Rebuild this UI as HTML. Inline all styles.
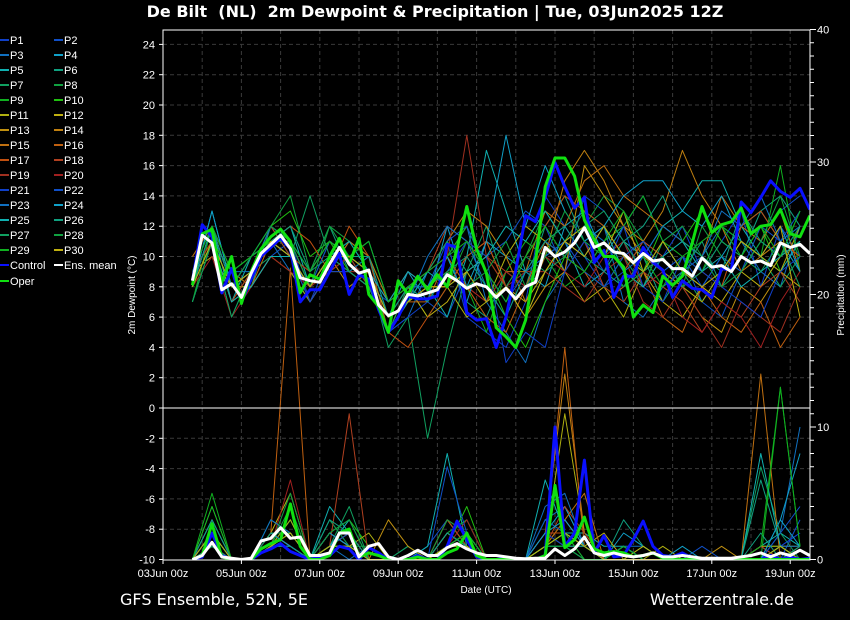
<!DOCTYPE html>
<html><head><meta charset="utf-8">
<style>
html,body{margin:0;padding:0;background:#000;}
svg{display:block;font-family:"Liberation Sans","DejaVu Sans",sans-serif;}
</style></head>
<body>
<svg id="chart" width="850" height="620" viewBox="0 0 850 620" xmlns="http://www.w3.org/2000/svg">
<rect x="0" y="0" width="850" height="620" fill="#000"/>
<text x="435" y="17" text-anchor="middle" fill="#fff" font-size="16" font-weight="bold" font-family="DejaVu Sans, sans-serif" xml:space="preserve">De Bilt  (NL)  2m Dewpoint &amp; Precipitation | Tue, 03Jun2025 12Z</text>
<text x="120" y="605" fill="#fff" font-size="16" font-family="DejaVu Sans, sans-serif">GFS Ensemble, 52N, 5E</text>
<text x="794" y="605" text-anchor="end" fill="#fff" font-size="16" font-family="DejaVu Sans, sans-serif">Wetterzentrale.de</text>
<text x="486" y="593" text-anchor="middle" fill="#fff" font-size="10">Date (UTC)</text>
<text transform="translate(135,295) rotate(-90)" text-anchor="middle" fill="#fff" font-size="10">2m Dewpoint (°C)</text>
<text transform="translate(844,295) rotate(-90)" text-anchor="middle" fill="#fff" font-size="10">Precipitation (mm)</text>
<g id="grid"></g>
<g id="ticks"></g>
<defs><clipPath id="pc"><rect x="163" y="30" width="647" height="530"/></clipPath></defs>
<g id="series" clip-path="url(#pc)"></g>
<g id="frame"></g>
<g id="legend"></g>
</svg>
<script>
const xTickLabels = ["03Jun 00z","05Jun 00z","07Jun 00z","09Jun 00z","11Jun 00z","13Jun 00z","15Jun 00z","17Jun 00z","19Jun 00z"];
const leftTicks = [-10,-8,-6,-4,-2,0,2,4,6,8,10,12,14,16,18,20,22,24];
const rightTicks = [0,10,20,30,40];
const memberColors = ["#1040c8","#1050c8","#1070c0","#10a0c8","#10b0b0","#10a080","#10a060","#10a040","#10b020","#20c010","#b0b010","#c0b010","#c09010","#c08010","#c07010","#c06010","#c05010","#b04020","#a03020","#a02020","#1040c8","#1050c8","#1070c0","#10a0c8","#10b0b0","#10a080","#10a060","#10a040","#10b020","#c0b010"];
const meanDew = [8.4,11.4,10.9,7.8,8.2,7.3,8.9,10.2,10.8,11.4,10.5,8.6,8.4,8.3,9.5,10.6,9.5,8.9,9.1,6.8,6.1,6.4,7.5,7.4,7.6,7.8,8.8,8.4,7.9,8.2,8.0,7.3,7.9,7.2,8.0,8.3,10.6,10.0,10.3,10.9,11.9,10.6,10.9,10.3,10.2,9.6,10.2,9.7,9.8,9.2,9.2,8.7,9.9,9.3,9.4,9.0,10.0,9.6,9.7,9.4,10.9,10.6,10.8,10.2];
const controlDew = [8.4,12.1,11.3,7.6,9.2,7.0,8.5,10.0,10.6,11.2,10.5,7.0,7.8,7.8,9.0,10.2,7.5,8.8,8.5,6.5,5.0,6.0,7.4,7.2,7.2,7.4,10.8,10.6,6.3,5.8,5.9,4.0,6.0,9.1,12.7,12.3,13.9,16.2,14.6,13.2,13.9,9.6,10.4,7.3,8.7,8.7,10.6,9.6,9.1,7.3,8.4,7.9,7.8,7.3,9.2,9.1,13.6,12.9,13.9,15.0,14.3,13.9,14.5,13.1];
const operDew = [8.1,11.5,11.8,8.3,10.0,6.9,9.0,10.5,11.3,11.8,11.0,7.6,8.8,8.5,10.0,11.2,9.5,11.2,7.5,6.7,5.0,8.4,7.5,8.7,7.8,8.8,8.0,10.5,13.3,10.5,8.9,5.3,4.7,4.0,5.8,9.6,14.6,16.5,16.5,15.3,12.4,11.1,10.0,10.0,9.3,6.0,6.8,6.3,8.7,8.1,8.7,10.9,13.3,11.6,12.1,12.3,13.2,11.5,12.0,12.1,13.1,11.5,11.3,12.7];
const meanPrecip = [0,0.3,1.3,0.2,0.1,0,0.1,1.4,1.6,2.4,1.6,1.7,0.3,0.3,0.5,2.0,2.0,0.2,1.0,1.2,0.2,0,0.3,0.7,0.3,0.3,0.9,1.2,0.8,0.5,0.3,0.3,0.2,0.1,0.05,0.1,0.1,0.8,0.3,0.8,1.7,0.5,0.3,0.5,0.3,0.2,0.3,0.5,0.2,0.2,0.3,0.2,0.1,0.1,0.1,0.1,0.2,0.3,0.5,0.2,0.5,0.3,0.7,0.3];
const controlPrecip = [0,0.2,2.0,0.3,0,0,0,0.5,0.8,1.2,0.6,0.3,0,0.2,0.3,1.0,0.8,0,0.9,0.5,0,0,0,0.3,0,0,1.0,2.9,1.5,0.2,0,0,0.1,0,0,0,0.3,10.0,1.0,2.0,7.5,0.5,1.8,0.2,0.3,1.5,2.9,1.0,0.3,0.2,0.5,0.1,0,0,0,0,0,0,0,0.3,0,0.2,0,0.1];
const operPrecip = [0,0.3,2.7,0.2,0,0,0,0.8,1.2,1.5,4.2,1.0,0,0,0.3,2.0,2.3,0.2,0.5,0.3,0,0,0,0.2,0,0,0.5,0.8,2.0,0.3,0,0,0,0,0,0,0.3,5.6,0.9,1.5,3.2,0.8,0.5,0.6,0.5,0.2,0.3,0.5,0.1,0,0,0,0,0,0,0,0,0,0,0,0,0,0,0];
const memberDew = [
[8,12,8,9,11,11,7,10,9,8,5,7,9,11,6,5,4,7,14,12,10,8,9,11,10,12,9,11,13,8,12,10],
[9,12,7,8,10,11,9,11,10,8,7,8,7,6,9,10,11,13,12,9,14,13,11,8,9,10,7,6,9,11,13,14],
[7,11,9,10,11,9,7,9,11,10,5,6,9,10,12,7,5,3,7,9,11,12,7,6,8,9,10,12,11,9,8,12],
[8,13,8,9,12,10,8,10,9,10,6,9,7,12,8,11,10,9,8,12,13,10,12,14,11,9,8,10,12,13,11,9],
[8,12,7,10,11,12,8,9,10,11,7,8,8,6,10,17,13,9,10,11,8,9,11,10,12,13,15,15,12,10,9,11],
[7,11,8,8,12,11,9,12,9,8,5,7,9,10,7,6,9,8,12,14,11,9,8,10,7,9,11,8,10,13,14,12],
[8,11,6,9,10,10,8,11,10,9,4,6,-2,4,9,12,8,6,9,11,13,12,10,8,11,9,7,9,11,10,8,10],
[9,12,9,10,12,14,9,12,11,10,7,8,6,8,11,9,7,10,13,11,12,14,13,11,9,8,12,10,9,11,10,13],
[7,12,8,9,11,11,8,10,10,9,6,8,7,9,8,5,9,11,10,8,9,11,12,14,11,10,9,12,11,10,16,9],
[8,11,9,10,12,13,10,11,9,10,7,9,8,10,12,9,6,4,7,10,9,8,10,9,12,11,13,11,10,12,9,8],
[9,10,8,8,10,9,7,9,9,8,6,7,8,8,6,7,10,12,11,9,7,8,6,9,10,8,7,9,11,10,9,12],
[8,11,7,9,11,10,7,9,10,9,5,8,6,7,9,10,8,7,9,11,12,10,13,9,7,6,8,7,9,8,10,11],
[9,11,8,9,11,11,8,10,8,9,6,7,8,8,10,11,8,6,8,9,16,14,12,10,9,8,6,5,8,7,9,8],
[8,12,9,8,10,10,9,11,10,9,7,8,9,11,13,12,10,7,10,15,17,15,12,11,13,17,14,12,9,10,11,10],
[10,12,8,9,11,10,8,9,11,10,7,9,8,9,8,7,9,9,13,12,15,16,14,13,12,11,10,14,12,11,13,9],
[9,11,7,8,11,11,8,10,10,9,6,7,7,10,8,6,5,8,11,10,9,7,8,9,6,5,8,6,5,7,4,6],
[8,12,8,10,11,12,11,9,12,10,5,4,6,8,10,11,8,10,12,14,13,12,9,11,10,8,9,8,12,13,11,10],
[9,11,7,9,12,10,9,11,10,8,6,8,9,12,11,10,9,8,10,9,11,8,7,9,8,7,5,7,6,8,9,7],
[8,11,8,9,11,10,8,10,9,9,6,8,9,10,18,10,8,9,9,8,7,9,10,7,6,8,6,4,7,6,5,8],
[8,10,6,8,10,9,8,9,10,9,5,7,8,9,8,7,9,8,10,9,8,10,11,8,9,6,5,7,6,4,7,9],
[8,12,8,9,11,10,7,9,9,8,5,6,7,9,11,10,3,5,4,9,11,9,12,8,7,10,9,8,7,6,9,10],
[7,11,8,10,11,10,8,11,10,9,6,8,8,11,12,9,7,9,10,11,9,8,10,11,9,10,8,10,9,12,11,13],
[8,12,9,9,12,11,8,10,9,10,6,7,10,12,11,8,6,9,11,10,12,11,9,10,12,11,10,13,12,14,11,12],
[8,13,8,10,11,11,9,11,10,9,7,9,8,10,7,11,18,12,16,13,11,12,14,15,15,13,12,14,11,10,12,9],
[7,11,7,8,10,10,8,10,11,9,5,7,9,8,9,10,12,11,13,11,10,12,9,8,10,11,9,10,8,9,10,11],
[8,12,8,9,11,12,9,10,10,10,6,8,7,9,10,8,6,9,11,12,10,9,11,12,14,11,10,9,13,11,10,12],
[8,11,6,9,11,10,14,10,9,8,5,8,9,11,9,7,8,10,9,10,12,13,11,9,10,8,9,11,10,9,11,8],
[7,11,8,10,12,11,8,12,10,9,6,7,8,9,8,9,11,8,10,13,11,10,8,9,11,12,10,8,9,11,14,10],
[9,12,9,10,11,11,9,11,10,11,7,8,9,10,11,9,7,10,12,10,9,11,13,10,8,10,11,12,10,12,10,13],
[8,11,8,9,11,10,8,10,10,9,6,7,8,8,9,7,8,6,9,11,10,12,10,9,11,9,8,9,11,10,12,6]
];
const memberPrecip = [
[0,2,0,0,1,1,0,1,2,0,0,0,0,1,2,0,0,0,2,1,0,0,1,0,0,0,0,0,0,0,1,2],
[0,1,0,0,2,1,0,3,1,0,0,0,1,3,1,0,0,0,1,2,1,0,0,0,0,0,0,0,0,1,0,3],
[0,4,0,0,1,3,0,1,0,1,0,0,0,2,3,0,0,0,3,4,1,0,1,1,0,0,0,0,0,0,2,10],
[0,3,0,0,2,1,0,2,1,0,0,0,0,1,2,0,0,0,2,4,1,0,2,1,0,0,0,0,0,0,3,8],
[0,2,0,0,3,2,0,4,2,0,0,0,1,8,1,0,0,0,6,2,2,1,1,0,0,0,0,0,0,1,2,1],
[0,1,0,0,1,2,0,2,1,0,0,1,0,2,1,0,0,0,2,1,0,0,3,1,0,0,0,0,0,6,1,0],
[0,2,0,0,1,3,0,1,4,0,0,1,0,1,2,0,0,0,1,2,1,0,1,0,0,0,0,0,0,7,2,0],
[0,1,0,0,1,4,0,3,1,1,0,0,0,3,1,0,0,0,1,1,0,0,1,0,0,0,0,0,0,1,1,0],
[0,3,0,0,2,2,0,2,1,0,0,0,0,2,3,0,0,0,2,1,1,0,0,1,0,0,0,0,0,0,13,1],
[0,4,0,0,1,2,0,2,3,1,0,0,0,1,4,0,0,0,3,2,1,0,0,0,0,0,0,0,0,0,1,0],
[0,2,0,0,1,3,0,1,1,2,0,0,0,1,1,0,0,0,1,11,2,0,0,0,1,0,0,0,0,1,1,0],
[0,1,0,0,2,5,0,1,2,0,0,0,0,2,1,0,0,0,1,2,1,2,0,1,0,0,0,0,0,0,1,1],
[0,2,0,0,1,2,0,2,1,0,3,1,0,1,2,0,0,0,1,3,1,0,0,0,0,0,0,1,0,0,0,1],
[0,1,0,0,2,1,0,1,2,0,0,0,0,2,1,0,0,0,2,14,2,0,1,0,0,0,0,0,0,0,0,0],
[0,3,0,0,1,2,0,1,1,0,0,0,0,1,1,0,0,0,1,3,5,0,0,0,0,0,0,0,0,14,0,0],
[0,1,0,0,2,22,0,2,1,0,0,0,0,1,2,0,0,0,1,16,1,0,0,0,0,0,0,0,0,0,0,0],
[0,2,0,0,1,2,0,1,1,0,0,0,0,3,1,0,0,0,2,2,1,0,0,0,0,0,0,0,0,1,0,0],
[0,1,0,0,2,1,0,1,11,0,0,0,0,3,2,0,0,0,1,4,2,0,0,0,0,0,0,0,0,1,0,0],
[0,2,0,0,1,2,0,1,1,0,0,0,0,2,1,0,0,0,2,1,1,0,0,0,0,0,0,0,0,0,0,0],
[0,1,0,0,1,6,0,2,1,0,0,0,0,1,3,0,0,0,1,2,0,0,0,0,0,0,0,0,0,0,0,0],
[0,3,0,0,1,1,0,2,1,0,0,0,0,1,1,0,0,0,2,1,1,0,1,0,0,0,0,0,0,0,1,2],
[0,2,0,0,1,2,0,1,2,0,0,0,0,7,2,0,0,0,3,2,1,0,1,0,0,0,1,0,0,0,2,4],
[0,2,0,0,3,2,0,1,1,0,0,0,0,1,1,0,0,0,4,5,1,0,1,0,0,0,0,0,0,0,1,1],
[0,1,0,0,2,1,0,2,1,0,0,0,0,2,1,0,0,0,2,3,1,0,0,0,0,1,0,0,0,0,3,1],
[0,2,0,0,1,2,0,1,3,0,0,0,0,1,2,0,0,0,1,2,0,0,1,0,0,0,0,0,0,8,1,0],
[0,3,0,0,1,1,0,3,2,0,0,0,0,2,1,0,0,0,1,1,1,0,0,0,0,0,0,0,0,2,0,1],
[0,1,0,0,2,2,0,1,1,0,0,0,0,1,1,0,0,0,1,2,1,0,0,0,0,0,0,0,0,0,1,0],
[0,2,0,0,1,5,0,2,3,0,0,0,0,3,2,0,0,0,1,1,0,0,0,0,0,0,0,0,0,0,1,0],
[0,5,0,0,1,2,0,1,1,0,0,0,0,1,2,0,0,0,1,2,0,0,1,0,0,0,0,0,0,1,13,1],
[0,2,0,0,1,2,0,1,1,0,0,0,0,1,1,0,0,0,1,2,1,0,0,0,0,0,0,0,0,0,1,0]
];

const NS = "http://www.w3.org/2000/svg";
const X0 = 163, X1 = 810, PX_DAY = 39.2;
function xDay(d){ return X0 + d*PX_DAY; }
function xIdx6(i){ return xDay(0.75 + i*0.25); }
function xIdx12(i){ return xDay(0.75 + i*0.5); }
function yDew(v){ return 408 - v*15.15; }
function yPrec(v){ return 559.5 - v*13.25; }
function mk(tag, attrs, parent){
  const e = document.createElementNS(NS, tag);
  for (const k in attrs) e.setAttribute(k, attrs[k]);
  parent.appendChild(e); return e;
}
const grid = document.getElementById('grid');
const ticks = document.getElementById('ticks');
const series = document.getElementById('series');
const frame = document.getElementById('frame');
const legend = document.getElementById('legend');

for (let d = 1; d <= 16; d++) {
  const l = mk('line', {x1:xDay(d), x2:xDay(d), y1:30, y2:560, stroke:'#3a3a3a', 'stroke-dasharray':'4,3'}, grid);
  
  
}
leftTicks.forEach(v => {
  if (v !== 0 && v !== -10) {
    const l = mk('line', {x1:X0, x2:X1, y1:yDew(v), y2:yDew(v), stroke:'#3a3a3a', 'stroke-dasharray':'4,3'}, grid);
    
    
  }
  const t = mk('text', {x:155, y:yDew(v)+4, 'text-anchor':'end', fill:'#fff', 'font-size':11}, ticks);
  t.textContent = v;
  
  
  const tk = mk('line', {x1:X0-4, x2:X0, y1:yDew(v), y2:yDew(v), stroke:'#fff'}, ticks);
  
  
});
for (let m = 0; m <= 40; m++) {
  const len = (m % 10 === 0) ? 6 : 4;
  const tk = mk('line', {x1:X1, x2:X1+len, y1:yPrec(m), y2:yPrec(m), stroke:'#fff'}, ticks);
  
  
}
rightTicks.forEach(v => {
  const t = mk('text', {x:817, y:yPrec(v)+4, fill:'#fff', 'font-size':11}, ticks);
  t.textContent = v;
  
  
});
xTickLabels.forEach((s, i) => {
  const t = mk('text', {x:xDay(i*2), y:577, 'text-anchor':'middle', fill:'#fff', 'font-size':11}, ticks);
  t.textContent = s;
  
  
  const tk = mk('line', {x1:xDay(i*2), x2:xDay(i*2), y1:560, y2:564, stroke:'#fff'}, ticks);
  
  
});

function poly(vals, xf, yf, color, w){
  const pts = vals.map((v,i) => xf(i).toFixed(1)+','+yf(v).toFixed(1)).join(' ');
  return mk('polyline', {points:pts, fill:'none', stroke:color, 'stroke-width':w, 'stroke-linejoin':'round'}, series);
}
memberPrecip.forEach((arr, k) => {
  const p = poly(arr, xIdx12, yPrec, memberColors[k], 1);
  
  
});
memberDew.forEach((arr, k) => {
  const p = poly(arr, xIdx12, yDew, memberColors[k], 1);
  
  
});
let p;
p = poly(controlPrecip, xIdx6, yPrec, '#0a10ff', 3);


p = poly(operPrecip, xIdx6, yPrec, '#10e010', 3);


p = poly(meanPrecip, xIdx6, yPrec, '#ffffff', 3);


p = poly(controlDew, xIdx6, yDew, '#0a10ff', 3);


p = poly(operDew, xIdx6, yDew, '#10e010', 3);


p = poly(meanDew, xIdx6, yDew, '#ffffff', 3);



let f;
f = mk('rect', {x:X0, y:30, width:X1-X0, height:530, fill:'none', stroke:'#fff', 'stroke-width':1}, frame);


f = mk('line', {x1:X0, x2:X1, y1:408, y2:408, stroke:'#fff', 'stroke-width':1}, frame);



const legendLabels = [];
for (let i = 1; i <= 30; i++) legendLabels.push('P' + i);
legendLabels.forEach((s, i) => {
  const col = i % 2, row = Math.floor(i / 2);
  const x = col ? 54 : 0, y = 40 + row*15;
  const g = mk('g', {}, legend);
  
  
  mk('line', {x1:x, x2:x+9, y1:y, y2:y, stroke:memberColors[i], 'stroke-width':2}, g);
  const t = mk('text', {x:x+10, y:y+4, fill:'#fff', 'font-size':11}, g);
  t.textContent = s;
});
[['Control','#0a10ff',0,265],['Ens. mean','#ffffff',54,265],['Oper','#10e010',0,281]].forEach(e => {
  const g = mk('g', {}, legend);
  
  
  mk('line', {x1:e[2], x2:e[2]+9, y1:e[3], y2:e[3], stroke:e[1], 'stroke-width':2}, g);
  const t = mk('text', {x:e[2]+10, y:e[3]+4, fill:'#fff', 'font-size':11}, g);
  t.textContent = e[0];
});
</script>
</body></html>
